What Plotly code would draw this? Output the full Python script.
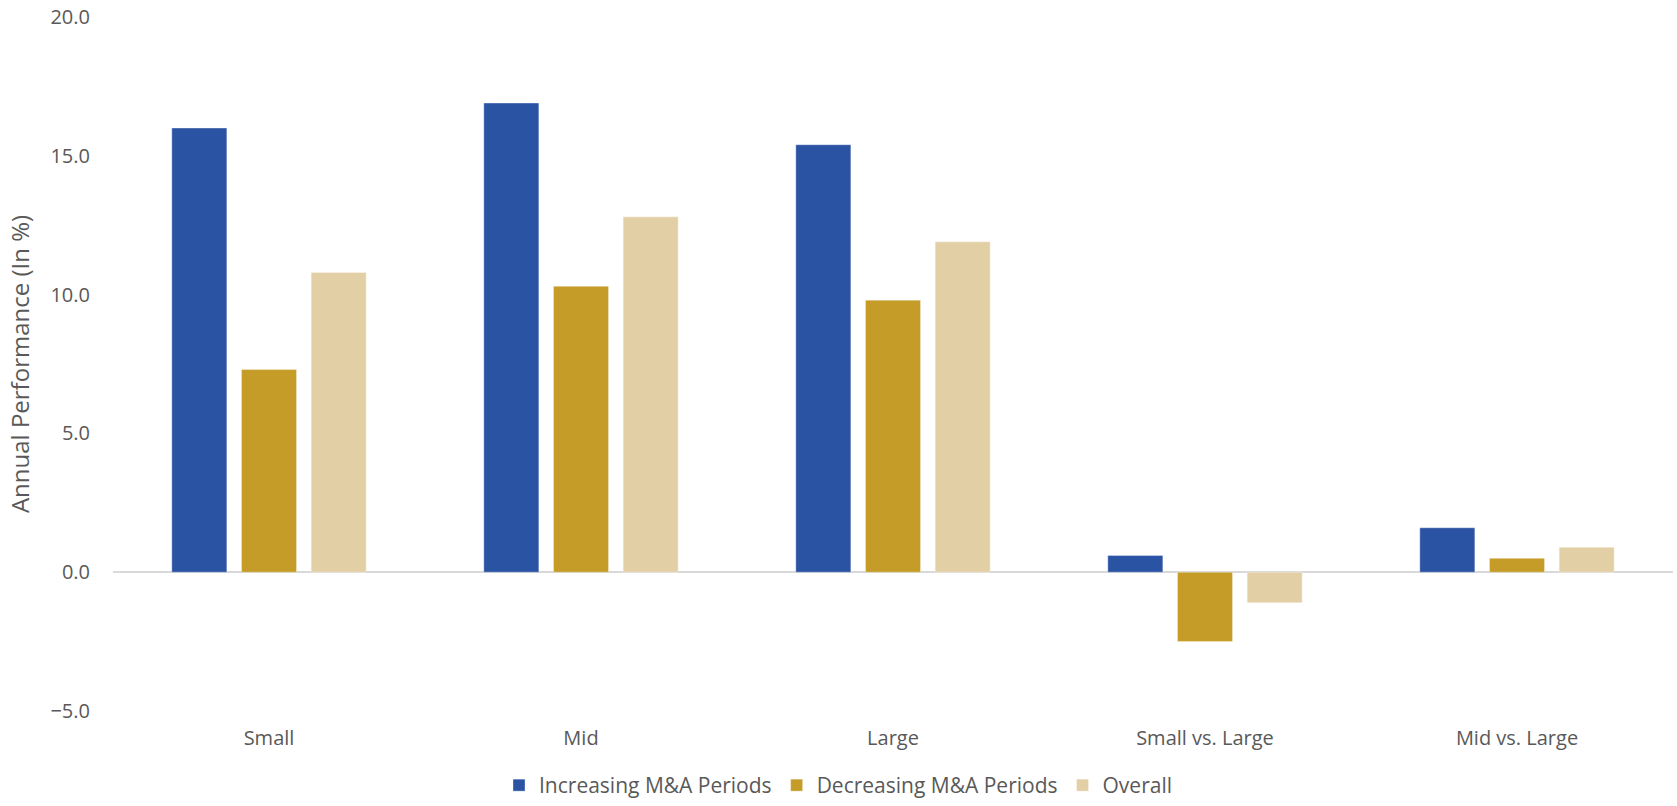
import plotly.graph_objects as go

categories = ["Small", "Mid", "Large", "Small vs. Large", "Mid vs. Large"]
increasing = [16.0, 16.9, 15.4, 0.6, 1.6]
decreasing = [7.3, 10.3, 9.8, -2.5, 0.5]
overall = [10.8, 12.8, 11.9, -1.1, 0.9]

series = [
    ("Increasing M&A Periods", increasing, "#2B53A4"),
    ("Decreasing M&A Periods", decreasing, "#C49C27"),
    ("Overall", overall, "#E3CFA6"),
]

y_ticks = [-5, 0, 5, 10, 15, 20]

fig = go.Figure()
for name, vals, color in series:
    fig.add_trace(go.Bar(
        x=categories, y=vals, name=name,
        marker=dict(color=color, line=dict(color="rgba(255,255,255,0.35)", width=1)),
    ))

tick_font = dict(family="Open Sans", size=20, color="#595959")

fig.update_layout(
    width=1677, height=806,
    margin=dict(l=113, r=4, t=17, b=95, autoexpand=False),
    paper_bgcolor="white", plot_bgcolor="white",
    barmode="group", bargap=0.33, bargroupgap=0.21,
    showlegend=True,
    legend=dict(
        orientation="h", xref="container", yref="container",
        x=0.5, xanchor="center", y=0.0, yanchor="bottom",
        font=dict(family="Open Sans", size=21, color="#595959"),
        traceorder="normal", itemwidth=30,
    ),
    xaxis=dict(
        showgrid=False, showline=False, ticks="", tickfont=tick_font,
        ticklabelstandoff=13,
    ),
    yaxis=dict(
        range=[-5, 20], tickvals=y_ticks, tickformat=".1f",
        showgrid=False, showline=False, ticks="", tickfont=tick_font,
        zeroline=True, zerolinecolor="#D9D9D9", zerolinewidth=2,
        ticklabelstandoff=22,
        title=dict(text="Annual Performance (In %)", standoff=14,
                   font=dict(family="Open Sans", size=24, color="#595959")),
    ),
)

fig.write_html("out.html")
